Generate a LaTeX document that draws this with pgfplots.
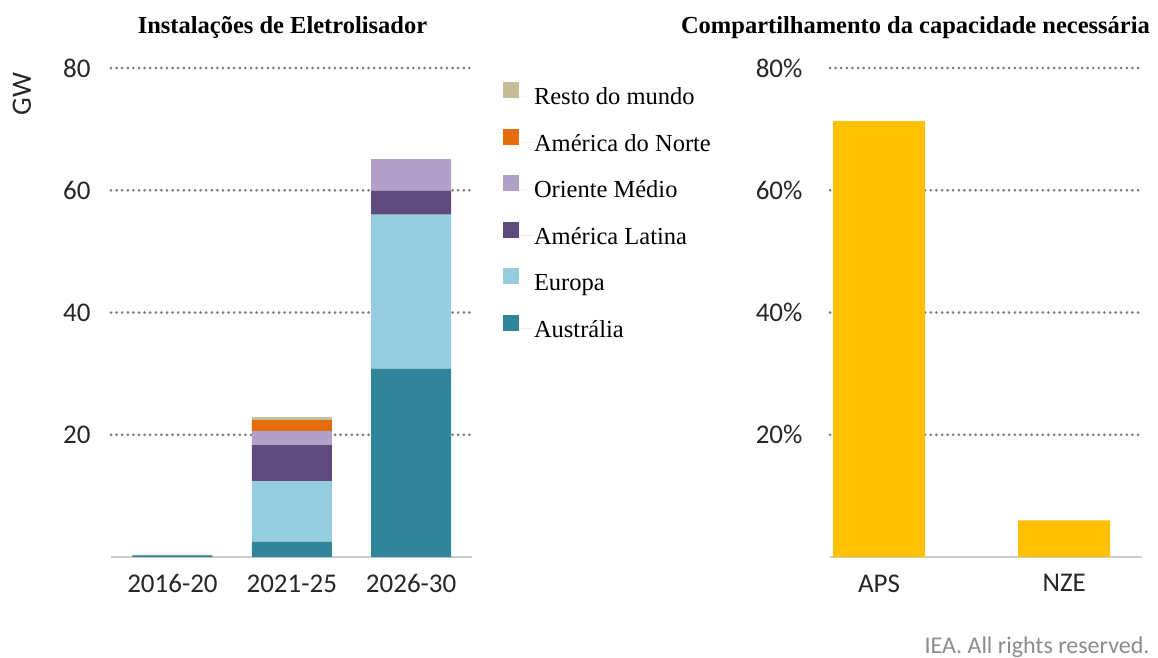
\documentclass[border=0pt]{standalone}
\usepackage{pgfplots}
\pgfplotsset{compat=1.18}
\usepackage{pgfplotstable}
\usepackage{fontspec}
\setmainfont{Liberation Serif}
\newfontfamily\calfont{Carlito}
\definecolor{colAus}{RGB}{49,133,155}
\definecolor{colEur}{RGB}{150,205,222}
\definecolor{colLat}{RGB}{94,74,124}
\definecolor{colME}{RGB}{177,160,199}
\definecolor{colNA}{RGB}{228,108,10}
\definecolor{colRest}{RGB}{196,189,151}
\definecolor{colYel}{RGB}{255,192,0}
\definecolor{gridgray}{RGB}{125,125,125}
\pgfplotstableread{
x Aus Eur Lat ME NA Rest
0 0.25 0 0 0 0.1 0
1 2.5 9.9 5.9 2.3 1.8 0.5
2 30.8 25.2 3.9 5.2 0 0
}\inst
\pgfplotstableread{
x share
0 71.3
1 6.0
}\share
\begin{document}
\begin{tikzpicture}
\path[use as bounding box] (0pt,0pt) rectangle (1158pt,657pt);
\pgfplotsset{
  common/.style={
    scale only axis,
    height=489pt,
    ymin=0, ymax=80,
    axis x line*=bottom,
    axis y line*=left,
    y axis line style={draw=none},
    x axis line style={draw=black!20, line width=1.5pt},
    major tick length=0pt,
    ymajorgrids,
    grid style={draw=gridgray, line width=3pt, line cap=round, dash pattern=on 0pt off 5.6pt},
    ticklabel style={font=\calfont\fontsize{27}{30}\selectfont, text=black!85},
    title style={font=\bfseries\fontsize{24.5}{27}\selectfont},
    xtick=data,
    clip=false,
  }
}
\begin{axis}[common,
  at={(111pt,100pt)}, anchor=south west,
  width=361pt,
  xmin=-0.515, xmax=2.51,
  ybar stacked, bar width=80pt,
  ytick={20,40,60,80}, yticklabels={20,40,60,80},
  xticklabels={2016-20,2021-25,2026-30},
  yticklabel style={anchor=east, xshift=-17pt},
  xticklabel style={yshift=-14pt},
  title={Instalações de Eletrolisador},
  title style={at={(0.475,1)}, anchor=south, yshift=20pt},
  reverse legend,
  legend cell align=left,
  legend style={draw=none, fill=none, at={(1.077,0.975)}, anchor=north west,
    font=\fontsize{24.5}{27}\selectfont, row sep=24pt,
    nodes={inner sep=0pt, text height=17pt, text depth=0pt}},
  legend image code/.code={\fill[#1] (0pt,-2pt) rectangle (16pt,14pt); \path (0pt,0pt) -- (31pt,0pt);},
]
\addplot[fill=colAus, draw=none] table[x=x,y=Aus]{\inst};
\addlegendentry{Austrália}
\addplot[fill=colEur, draw=none] table[x=x,y=Eur]{\inst};
\addlegendentry{Europa}
\addplot[fill=colLat, draw=none] table[x=x,y=Lat]{\inst};
\addlegendentry{América Latina}
\addplot[fill=colME, draw=none] table[x=x,y=ME]{\inst};
\addlegendentry{Oriente Médio}
\addplot[fill=colNA, draw=none] table[x=x,y=NA]{\inst};
\addlegendentry{América do Norte}
\addplot[fill=colRest, draw=none] table[x=x,y=Rest]{\inst};
\addlegendentry{Resto do mundo}
\end{axis}
\node[rotate=90, font=\calfont\fontsize{28}{30}\selectfont, text=black!85] at (22pt,563pt) {GW};
\begin{axis}[common,
  at={(830pt,100pt)}, anchor=south west,
  width=312pt,
  xmin=-0.265, xmax=1.42,
  ybar, bar width=92pt,
  ytick={20,40,60,80}, yticklabels={20\%,40\%,60\%,80\%},
  xticklabels={APS,NZE},
  yticklabel style={anchor=east, xshift=-24pt},
  xticklabel style={yshift=-14pt},
  title={Compartilhamento da capacidade necessária},
  title style={at={(0.274,1)}, anchor=south, yshift=20pt},
]
\addplot[fill=colYel, draw=none] table[x=x,y=share]{\share};
\end{axis}
\node[anchor=base east, font=\calfont\fontsize{24}{26}\selectfont, text=black!45] at (1153pt,4pt) {IEA. All rights reserved.};
\end{tikzpicture}
\end{document}
